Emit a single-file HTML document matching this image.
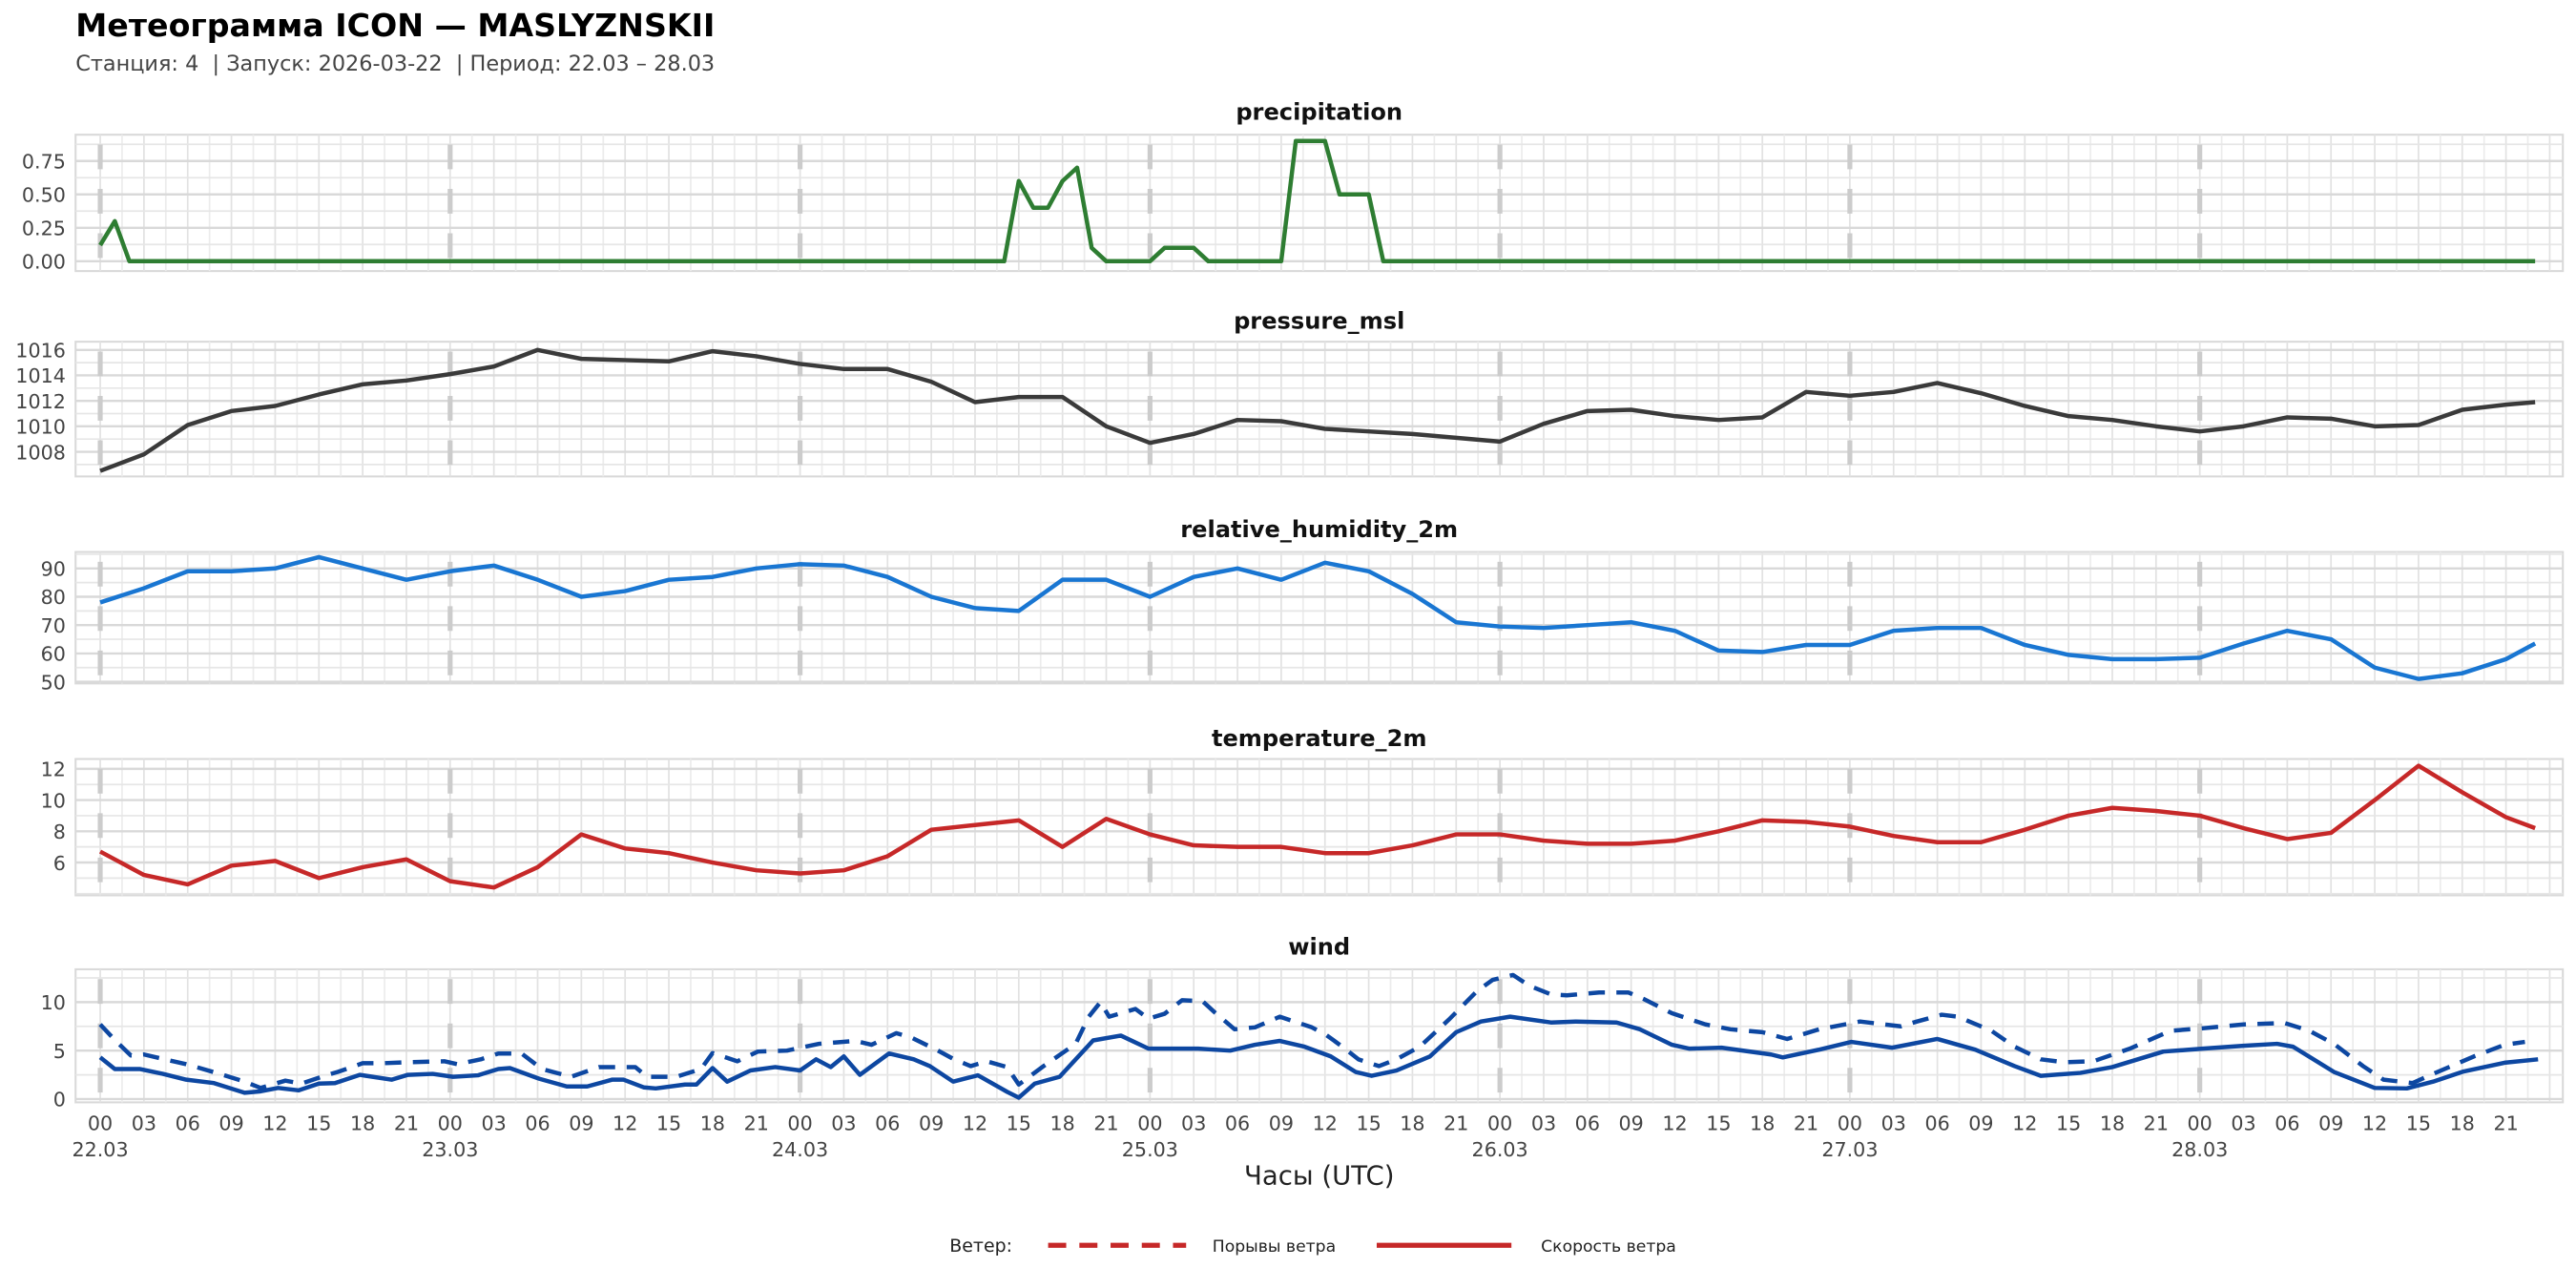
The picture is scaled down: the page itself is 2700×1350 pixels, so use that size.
<!DOCTYPE html>
<html><head><meta charset="utf-8"><title>Meteogram</title>
<style>html,body{margin:0;padding:0;background:#fff}svg{display:block}text{font-family:"DejaVu Sans","Liberation Sans",sans-serif}</style>
</head><body>
<svg id="chart" xmlns="http://www.w3.org/2000/svg" width="2700" height="1350" viewBox="0 0 1568 784">
<text x="46" y="22" font-size="19.3" font-weight="bold" fill="#000">Метеограмма ICON — MASLYZNSKII</text>
<text x="46" y="43" font-size="13" fill="#444">Станция: 4&#160; | Запуск: 2026-03-22&#160; | Период: 22.03 – 28.03</text>
<g id="panels"></g>
<text x="803" y="721" font-size="16" fill="#222" text-anchor="middle">Часы (UTC)</text>
<g>
<text x="578" y="762" font-size="11" fill="#222">Ветер:</text>
<line x1="638" y1="758" x2="722" y2="758" stroke="#c62828" stroke-width="3" stroke-dasharray="11 8"/>
<text x="738" y="762" font-size="10" fill="#222">Порывы ветра</text>
<line x1="838" y1="758" x2="920" y2="758" stroke="#c62828" stroke-width="3"/>
<text x="938" y="762" font-size="10" fill="#222">Скорость ветра</text>
</g>
</svg>
<script>
const hours3 = [0,3,6,9,12,15,18,21,24,27,30,33,36,39,42,45,48,51,54,57,60,63,66,69,72,75,78,81,84,87,90,93,96,99,102,105,108,111,114,117,120,123,126,129,132,135,138,141,144,147,150,153,156,159,162,165,167];
const precipHours = [0,1,2,62,63,64,65,66,67,68,69,72,73,75,76,81,82,84,85,87,88,167];
const precipValues = [0.12,0.3,0,0,0.6,0.4,0.4,0.6,0.7,0.1,0,0,0.1,0.1,0,0,0.9,0.9,0.5,0.5,0,0];
const pressureValues = [1006.5,1007.8,1010.1,1011.2,1011.6,1012.5,1013.3,1013.6,1014.1,1014.7,1016,1015.3,1015.2,1015.1,1015.9,1015.5,1014.9,1014.5,1014.5,1013.5,1011.9,1012.3,1012.3,1010,1008.7,1009.4,1010.5,1010.4,1009.8,1009.6,1009.4,1009.1,1008.8,1010.2,1011.2,1011.3,1010.8,1010.5,1010.7,1012.7,1012.4,1012.7,1013.4,1012.6,1011.6,1010.8,1010.5,1010,1009.6,1010,1010.7,1010.6,1010,1010.1,1011.3,1011.7,1011.9];
const humidityValues = [78,83,89,89,90,94,90,86,89,91,86,80,82,86,87,90,91.5,91,87,80,76,75,86,86,80,87,90,86,92,89,81,71,69.5,69,70,71,68,61,60.5,63,63,68,69,69,63,59.5,58,58,58.5,63.5,68,65,55,51,53,58,63.5];
const temperatureValues = [6.7,5.2,4.6,5.8,6.1,5.0,5.7,6.2,4.8,4.4,5.7,7.8,6.9,6.6,6.0,5.5,5.3,5.5,6.4,8.1,8.4,8.7,7.0,8.8,7.8,7.1,7.0,7.0,6.6,6.6,7.1,7.8,7.8,7.4,7.2,7.2,7.4,8.0,8.7,8.6,8.3,7.7,7.3,7.3,8.1,9.0,9.5,9.3,9.0,8.2,7.5,7.9,10.0,12.2,10.5,8.9,8.2];
const speedHours = [0,1,2.7,4.3,5.9,7.8,9.9,11,12.2,13.6,15,16.1,17.8,20,21.1,22.8,24.2,25.9,27.3,28.1,30.1,32,33.4,35.1,35.9,37.3,38.1,40.1,40.9,42,43,44.6,46.3,48,49.1,50.1,51,52.1,54.1,55.8,56.9,58.5,60.2,62.2,63,64.1,65.8,68.1,70,71.9,75.3,77.5,79.2,80.9,82.6,84.4,86.1,87.2,88.9,91.2,93,94.7,96.7,99.5,101.2,104,105.6,107.8,109,111.2,114.6,115.4,117.9,120.1,122.9,126,128.6,131.3,133.1,135.8,138,141.5,144.2,147,149.3,150.4,153.2,156,158.2,160,162.1,164.9,167.2];
const speedValues = [4.3,3.1,3.1,2.6,2.0,1.65,0.65,0.8,1.15,0.9,1.6,1.65,2.5,2.0,2.5,2.6,2.3,2.45,3.1,3.2,2.1,1.3,1.3,2.0,2.0,1.2,1.1,1.5,1.5,3.2,1.8,2.95,3.3,2.95,4.1,3.3,4.4,2.5,4.7,4.1,3.4,1.8,2.45,0.75,0.15,1.6,2.3,6.05,6.55,5.2,5.2,5.0,5.6,6.0,5.4,4.4,2.8,2.4,2.95,4.4,6.9,8.0,8.5,7.9,8.0,7.9,7.2,5.6,5.2,5.3,4.6,4.3,5.1,5.9,5.3,6.2,5.1,3.4,2.4,2.7,3.3,4.9,5.2,5.5,5.7,5.4,2.8,1.15,1.1,1.8,2.85,3.75,4.1];
const gustHours = [0,1,2.1,3,5,5.9,8.2,9.9,11,12.7,13.8,15.5,16.3,18,19.4,21.1,23.6,24.5,26.1,27.3,28.9,30.3,32.3,34.2,36.7,37.5,39.5,41.2,42,43.7,45.1,47.1,49.3,51.8,52.9,54.6,55.7,57.4,58.5,59.7,60.8,62.2,63,64.7,66.9,67.8,68.6,69.2,71,71.9,73,74.2,75.6,76.4,77.8,79.2,80.9,83.1,84.1,85.2,86.3,87.7,88.9,90.5,92.5,94.4,95.5,96.9,98,99.5,100.6,102.8,104.8,105.9,107.8,110.1,111.8,114,115.7,117.9,120.7,123.5,124.6,126.3,127.4,129.7,131.3,133.1,134.7,136.7,139.2,142,144.2,147,149.8,151.5,153.2,155.2,156.6,158.6,160,162.8,164.9,166.3];
const gustValues = [7.7,6.1,4.5,4.6,3.9,3.6,2.6,1.8,1.15,1.9,1.6,2.45,2.8,3.7,3.7,3.8,3.9,3.6,4.1,4.7,4.7,3.1,2.3,3.3,3.3,2.3,2.3,3.1,4.75,3.9,4.9,5.0,5.7,6.0,5.6,6.8,6.3,5.05,4.15,3.4,3.9,3.3,1.5,3.4,5.7,8.5,10,8.5,9.3,8.3,8.8,10.2,10.1,9.0,7.2,7.4,8.5,7.4,6.6,5.4,4.1,3.4,4.1,5.4,8.2,11.1,12.3,12.8,11.7,10.8,10.7,11.0,11.0,10.3,8.85,7.7,7.2,6.9,6.2,7.2,8.0,7.5,8.0,8.7,8.5,7.05,5.4,4.1,3.8,3.9,5.2,7.05,7.3,7.7,7.85,7.05,5.7,3.4,2.0,1.65,2.6,4.4,5.6,5.9];
const hourTickLabels = ["00","03","06","09","12","15","18","21"];
const dateLabels = ["22.03","23.03","24.03","25.03","26.03","27.03","28.03"];
const precipTicks = [0,0.25,0.5,0.75], precipTickLabels = ["0.00","0.25","0.50","0.75"];
const pressureTicks = [1008,1010,1012,1014,1016];
const humidityTicks = [50,60,70,80,90];
const temperatureTicks = [6,8,10,12];
const windTicks = [0,5,10];

const NS = "http://www.w3.org/2000/svg";
const X0 = 61, PXH = 8.875, BOXL = 46, BOXR = 1560;
function xs(h){ return X0 + h*PXH; }
function mk(tag, attrs, parent){ const e=document.createElementNS(NS,tag); for(const k in attrs) e.setAttribute(k,attrs[k]); parent.appendChild(e); return e; }
const root = document.getElementById('panels');

const panels = [
 {name:'precipitation', title:'precipitation', top:82, bot:165, v0:0, y0:159, v1:0.75, y1:98, ticks:precipTicks, tl:precipTickLabels, ty:68},
 {name:'pressure', title:'pressure_msl', top:208, bot:290, v0:1008, y0:275, v1:1016, y1:213, ticks:pressureTicks, ty:195},
 {name:'humidity', title:'relative_humidity_2m', top:336, bot:416, v0:50, y0:415, v1:90, y1:346, ticks:humidityTicks, ty:322},
 {name:'temperature', title:'temperature_2m', top:462, bot:545, v0:6, y0:525, v1:12, y1:468, ticks:temperatureTicks, ty:449},
 {name:'wind', title:'wind', top:590, bot:671, v0:0, y0:669, v1:10, y1:610, ticks:windTicks, ty:576}
];
panels.forEach(p=>{ p.ys = v => p.y0 + (v-p.v0)*(p.y1-p.y0)/(p.v1-p.v0); });

function linePath(hs, vs, p){ return hs.map((h,i)=>(i?'L':'M')+xs(h).toFixed(2)+' '+p.ys(vs[i]).toFixed(2)).join(' '); }

panels.forEach(p=>{
  const g = mk('g',{},root);
  
  
  const t = mk('text',{x:803,y:p.ty+5,'font-size':14,'font-weight':'bold','text-anchor':'middle',fill:'#111'},g);
  
  
  t.textContent = p.title;
  const bg = mk('rect',{x:BOXL,y:p.top,width:BOXR-BOXL,height:p.bot-p.top,fill:'#fff',stroke:'#d9d9d9','stroke-width':1.2},g);
  
  
  for(let k=0;k<=112;k++){
    const h=k*1.5; const x=xs(h); if(x>BOXR) break;
    const gl = mk('line',{x1:x,y1:p.top,x2:x,y2:p.bot,stroke:(k%2==0?'#e2e2e2':'#ececec'),'stroke-width':1},g);
    
    
  }
  const step = p.ticks[1]-p.ticks[0];
  for(let v=p.ticks[0]-step; v<=p.ticks[p.ticks.length-1]+step; v+=step/2){
    const y=p.ys(v); if(y<p.top||y>p.bot) continue;
    const hl = mk('line',{x1:BOXL,y1:y,x2:BOXR,y2:y,stroke:'#e6e6e6','stroke-width':1},g);
    
    
  }
  p.ticks.forEach((v,i)=>{
    const y=p.ys(v);
    const hl = mk('line',{x1:BOXL,y1:y,x2:BOXR,y2:y,stroke:'#d9d9d9','stroke-width':1.4},g);
    
    
    const tl = mk('text',{x:40,y:y+4.5,'font-size':12,'text-anchor':'end',fill:'#444'},g);
    
    
    tl.textContent = p.tl ? p.tl[i] : String(v);
  });
  for(let d=0; d<dateLabels.length; d++){
    const x=xs(d*24);
    const dl = mk('line',{x1:x,y1:p.top+6,x2:x,y2:p.bot,stroke:'#cccccc','stroke-width':3,'stroke-dasharray':'15 12'},g);
    
    
  }
  p.g = g;
});

function series(p, hs, vs, color, name, dash){
  const a = {d:linePath(hs,vs,p),fill:'none',stroke:color,'stroke-width':2.6,'stroke-linejoin':'round'};
  if(dash) a['stroke-dasharray']=dash;
  const e = mk('path',a,p.g);
  
  
}
series(panels[0], precipHours, precipValues, '#2e7d32', 'precipitation-line');
series(panels[1], hours3, pressureValues, '#3a3a3a', 'pressure-line');
series(panels[2], hours3, humidityValues, '#1976d2', 'humidity-line');
series(panels[3], hours3, temperatureValues, '#c62828', 'temperature-line');
series(panels[4], gustHours, gustValues, '#0d47a1', 'wind-gust-line', '10 7');
series(panels[4], speedHours, speedValues, '#0d47a1', 'wind-speed-line');

const svg = document.getElementById('chart');
for(let k=0;k<56;k++){
  const h=k*3;
  const t = mk('text',{x:xs(h),y:688,'font-size':12,'text-anchor':'middle',fill:'#444'},svg);
  
  
  t.textContent = hourTickLabels[k%8];
}
dateLabels.forEach((d,i)=>{
  const t = mk('text',{x:xs(i*24),y:704,'font-size':12,'text-anchor':'middle',fill:'#444'},svg);
  
  
  t.textContent = d;
});
</script>
</body></html>
